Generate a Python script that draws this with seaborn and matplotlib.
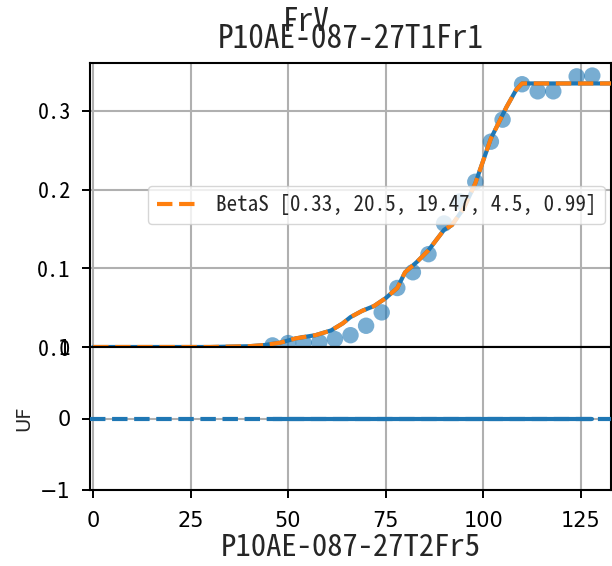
import numpy as np
import pandas as pd
import matplotlib
matplotlib.use("Agg")
import matplotlib.pyplot as plt
from matplotlib import font_manager as fm
import seaborn as sns

# ---------------- data ----------------
x_obs = [46, 50, 54, 58, 62, 66, 70, 74, 78, 82, 86, 90, 94, 98, 102, 105, 110, 114, 118, 124, 128]
y_obs = [0.002, 0.005, 0.005, 0.006, 0.010, 0.015, 0.027, 0.044, 0.075, 0.095, 0.118, 0.157,
         0.185, 0.210, 0.261, 0.289, 0.334, 0.325, 0.325, 0.344, 0.345]
x_fit = [0, 10, 20, 30, 35, 40, 44, 48, 52, 57, 61, 64, 66, 69, 72, 75, 78, 80, 83, 86, 90,
         92, 95, 98, 102, 106, 108.5, 110, 133]
y_fit = [0, 0, 0, 0, 0.0005, 0.001, 0.0025, 0.0055, 0.011, 0.015, 0.021, 0.030, 0.038, 0.046,
         0.052, 0.062, 0.075, 0.095, 0.108, 0.123, 0.149, 0.155, 0.176, 0.208, 0.265, 0.305,
         0.327, 0.335, 0.335]
uf_vals = [0, 0, 0, 0, 0, 0, 0, 0, 0, 0, 0, 0, 0, 0, 0, 0, 0, 0, 0, 0, 0]
legend_label = "BetaS [0.33, 20.5, 19.47, 4.5, 0.99]"
top_title = "P10AE-087-27T1Fr1"
sup_title = "FrV"
x_label = "P10AE-087-27T2Fr5"
y_label_bottom = "UF"
top_yticks = [0.0, 0.1, 0.2, 0.3]
top_yticklabels = ["0.0", "0.1", "0.2", "0.3"]
bottom_yticks = [-1, 0, 1]
xticks = [0, 25, 50, 75, 100, 125]

# ---------------- style ----------------
sns.set_style("ticks")


def has_font(name):
    try:
        fm.findfont(fm.FontProperties(family=name), fallback_to_default=False)
        return True
    except Exception:
        return False


cjk = "Noto Sans Mono CJK JP" if has_font("Noto Sans Mono CJK JP") else "Noto Sans CJK JP"
cjk_fam = [cjk, "DejaVu Sans"]
plt.rcParams["font.family"] = ["DejaVu Sans"]
plt.rcParams["axes.edgecolor"] = "black"
plt.rcParams["axes.linewidth"] = 1.5

W, H = 612, 566
fig = plt.figure(figsize=(W / 100, H / 100), dpi=100)


def px_rect(x0, y0, x1, y1):
    return [x0 / W, 1 - y1 / H, (x1 - x0) / W, (y1 - y0) / H]


ax_top = fig.add_axes(px_rect(90, 63, 611, 347))
ax_bot = fig.add_axes(px_rect(90, 347, 611, 490))

df_obs = pd.DataFrame({"x": x_obs, "y": y_obs, "uf": uf_vals})
df_fit = pd.DataFrame({"x": x_fit, "y": y_fit})

C0 = "#1f77b4"
C1 = "#ff7f0e"
grid_kw = dict(color="#b0b0b0", linewidth=1.5)

# top panel
sns.scatterplot(data=df_obs, x="x", y="y", ax=ax_top, color=C0, alpha=0.6, s=140,
                edgecolor="none", zorder=2)
sns.lineplot(data=df_fit, x="x", y="y", ax=ax_top, color=C0, linewidth=3, sort=False,
             estimator=None, zorder=3)
sns.lineplot(data=df_fit, x="x", y="y", ax=ax_top, color=C1, linewidth=3, linestyle="--",
             sort=False, estimator=None, zorder=4, label=legend_label)
ax_top.set_xlim(-0.8, 132.8)
ax_top.set_ylim(0, 0.361)
ax_top.set_xticks(xticks)
ax_top.set_yticks(top_yticks)
ax_top.set_yticklabels(top_yticklabels, fontfamily=cjk_fam, fontsize=16)
ax_top.tick_params(axis="x", length=0, labelbottom=False)
ax_top.tick_params(axis="y", length=5.8, width=1.4, pad=8, colors="black")
ax_top.grid(True, **grid_kw)
ax_top.set_axisbelow(True)
ax_top.set_xlabel("")
ax_top.set_ylabel("")
ax_top.set_title(top_title, fontfamily=cjk_fam, fontsize=22.5, pad=11)
for s in ax_top.spines.values():
    s.set_visible(True)
    s.set_linewidth(1.5)
    s.set_color("black")
h, l = ax_top.get_legend_handles_labels()
leg = ax_top.legend(h[-1:], l[-1:], loc="center right", framealpha=0.8,
                    prop={"family": cjk_fam, "size": 15.2},
                    borderaxespad=0.3, fancybox=True)
leg.get_frame().set_edgecolor("#cccccc")

# bottom panel
ax_bot.axhline(0, color=C0, linewidth=3, linestyle="--", zorder=3)
sns.lineplot(data=df_obs, x="x", y="uf", ax=ax_bot, color=C0, linewidth=3, sort=False,
             estimator=None, zorder=4)
ax_bot.set_xlim(-0.8, 132.8)
ax_bot.set_ylim(-1, 1)
ax_bot.set_xticks(xticks)
ax_bot.set_yticks(bottom_yticks)
ax_bot.tick_params(axis="both", length=5.8, width=1.4, pad=8, labelsize=15, colors="black")
ax_bot.tick_params(axis="x", pad=9)
ax_bot.grid(True, **grid_kw)
ax_bot.set_axisbelow(True)
ax_bot.set_xlabel(x_label, fontfamily=cjk_fam, fontsize=22, labelpad=2)
ax_bot.set_ylabel(y_label_bottom, fontsize=14, labelpad=5)
for s in ax_bot.spines.values():
    s.set_visible(True)
    s.set_linewidth(1.5)
    s.set_color("black")

fig.text(0.5, 1 - 31 / H, sup_title, ha="center", va="baseline",
         fontfamily=cjk_fam, fontsize=22.5)

fig.savefig("out.png", dpi=100)
